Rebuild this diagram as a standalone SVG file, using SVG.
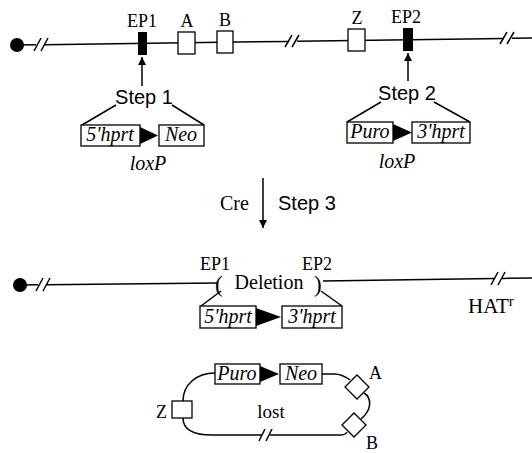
<svg xmlns="http://www.w3.org/2000/svg" width="532" height="453" viewBox="0 0 532 453">
<style>
.ln{stroke:#000;stroke-width:1.5;fill:none}
.box{fill:#fff;stroke:#000;stroke-width:1.3}
.blk{fill:#000;stroke:none}
.serif{font-family:"Liberation Serif","Times New Roman",serif;fill:#000}
.sans{font-family:"Liberation Sans",Arial,sans-serif;fill:#000}
.it{font-style:italic}
.mid{text-anchor:middle}
.lab{font-size:18px}
.bt{font-size:20px}
</style>
<defs>
<marker id="ah" viewBox="0 0 10 10" refX="10" refY="5" markerWidth="10" markerHeight="8" markerUnits="userSpaceOnUse" orient="auto">
<path d="M0,0 L10,5 L0,10 z" fill="#000"/>
</marker>
</defs>

<g id="connectors">
<path class="ln" d="M18,45 L36,44.8 M44,44.7 L289,41.4 M297,41.3 L504,38.4 M512,38.3 L532,38"/>
<path class="ln" d="M34,51 L41,38 M41,51 L48,38 M285,47 L292,35 M292,47 L299,35 M500,44 L507,32 M507,44 L514,32"/>
<line class="ln" x1="142" y1="86" x2="142" y2="57" marker-end="url(#ah)"/>
<line class="ln" x1="408" y1="81" x2="408" y2="53" marker-end="url(#ah)"/>
<path class="ln" d="M116,105 L82,125 M172,105 L204,125"/>
<path class="ln" d="M381,102 L347,122 M434,102 L470,122"/>
<line class="ln" x1="263" y1="178" x2="263" y2="228" marker-end="url(#ah)"/>
<path class="ln" d="M20,285 L38,284.8 M46,284.7 L217,283 M323,281 L494,278.5 M502,278.4 L532,278"/>
<path class="ln" d="M36,291 L43,278 M43,291 L50,278 M491,285 L498,272 M498,285 L505,272"/>
<path class="ln" d="M221,291 L201,306 M321,291 L342,306"/>
<path class="ln" d="M215,373 C196,373 183,385 183,401"/>
<path class="ln" d="M183,418 C183,430 194,435 212,435 L262,435 M270,435 L340,435 C344,435 346,434 347,432"/>
<path class="ln" d="M259,441 L265,429 M266,441 L272,429"/>
<path class="ln" d="M322,374 L334,374 C340,374 346,377 350,380"/>
<path class="ln" d="M364,393 C372,398 372,410 361,419"/>
</g>

<g id="centromere-top"><circle cx="17" cy="45" r="7" fill="#000"/></g>
<g id="EP1"><rect class="blk" x="138" y="32" width="9" height="23"/><text class="serif lab mid" x="142" y="27">EP1</text></g>
<g id="A"><rect class="box" x="178" y="32" width="17" height="22"/><text class="serif lab mid" x="187" y="27">A</text></g>
<g id="B"><rect class="box" x="217" y="31" width="16" height="22"/><text class="serif lab mid" x="225" y="26">B</text></g>
<g id="Z"><rect class="box" x="348" y="29" width="17" height="22"/><text class="serif lab mid" x="357" y="24">Z</text></g>
<g id="EP2"><rect class="blk" x="403" y="28" width="10" height="23"/><text class="serif lab mid" x="406" y="23">EP2</text></g>

<g id="step1">
<text class="sans mid" x="144" y="104" font-size="20">Step 1</text>
<rect class="box" x="81" y="125" width="59" height="21"/>
<text class="serif it bt mid" x="110" y="141">5'hprt</text>
<path class="blk" d="M140,127 L158,135.5 L140,144 z"/>
<rect class="box" x="159" y="125" width="45" height="21"/>
<text class="serif it bt mid" x="181" y="141">Neo</text>
<text class="serif it bt mid" x="148" y="170">loxP</text>
</g>

<g id="step2">
<text class="sans mid" x="407" y="100" font-size="20">Step 2</text>
<rect class="box" x="347" y="122" width="46" height="21"/>
<text class="serif it bt mid" x="370" y="138">Puro</text>
<path class="blk" d="M393,124 L412,132.5 L393,141 z"/>
<rect class="box" x="412" y="122" width="58" height="21"/>
<text class="serif it bt mid" x="441" y="138">3'hprt</text>
<text class="serif it bt mid" x="397" y="168">loxP</text>
</g>

<g id="step3">
<text class="serif" x="220" y="210" font-size="20">Cre</text>
<text class="sans" x="278" y="210" font-size="20">Step 3</text>
</g>

<g id="centromere-bottom"><circle cx="20" cy="285" r="7" fill="#000"/></g>
<g id="deletion">
<text class="serif lab mid" x="215" y="270">EP1</text>
<text class="serif lab mid" x="317" y="270">EP2</text>
<text class="serif" x="215" y="292" font-size="23">(</text>
<text class="serif mid" x="269" y="289" font-size="20">Deletion</text>
<text class="serif" x="314" y="292" font-size="23">)</text>
<rect class="box" x="200" y="306" width="56" height="22"/>
<text class="serif it bt mid" x="228" y="323">5'hprt</text>
<path class="blk" d="M256,308 L281,317 L256,326 z"/>
<rect class="box" x="282" y="306" width="60" height="22"/>
<text class="serif it bt mid" x="312" y="323">3'hprt</text>
</g>

<g id="HATr"><text class="serif" x="468" y="313" font-size="21">HAT<tspan dy="-7" font-size="15">r</tspan></text></g>

<g id="plasmid">
<rect class="box" x="215" y="364" width="45" height="20"/>
<text class="serif it bt mid" x="237" y="380">Puro</text>
<path class="blk" d="M260,366 L279,374 L260,382 z"/>
<rect class="box" x="280" y="364" width="42" height="20"/>
<text class="serif it bt mid" x="301" y="380">Neo</text>
<rect class="box" x="172" y="401" width="20" height="17"/>
<text class="serif lab" x="156" y="418">Z</text>
<text class="serif mid" x="271" y="418" font-size="19">lost</text>
<path class="box" d="M345,387 L357,375 L369,387 L357,399 z"/>
<text class="serif lab" x="369" y="379">A</text>
<path class="box" d="M342,425 L354,413 L366,425 L354,437 z"/>
<text class="serif lab" x="366" y="449">B</text>
</g>
</svg>
